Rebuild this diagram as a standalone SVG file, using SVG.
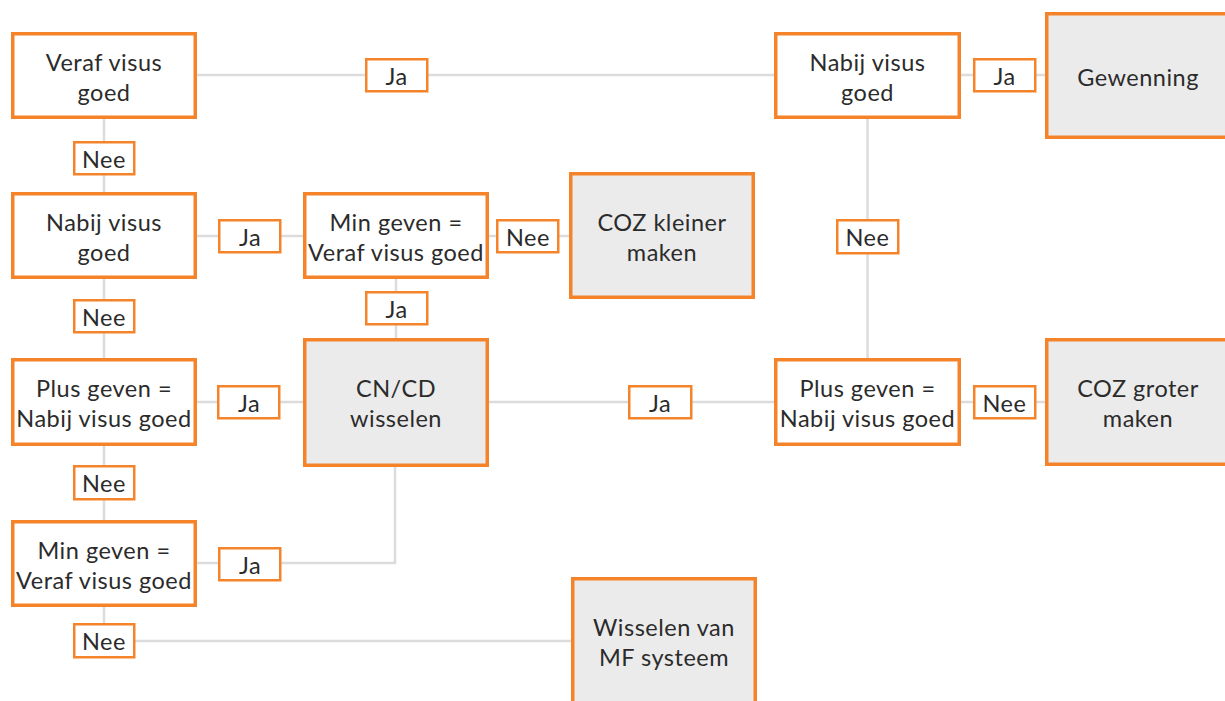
<svg xmlns="http://www.w3.org/2000/svg" width="1225" height="701" viewBox="0 0 1225 701">
<style>
.n{fill:#fff;stroke:#f5832a;stroke-width:3.5}
.t{fill:#ebebeb;stroke:#f5832a;stroke-width:3.5}
.l{fill:#fff;stroke:#f5832a;stroke-width:2.5}
.c{fill:none;stroke:#dcdcdc;stroke-width:2.5}
text{font-family:Lato,"Liberation Sans",sans-serif;fill:#2b2b2b;text-anchor:middle;font-size:23.5px;letter-spacing:0.5px}
</style>
<rect width="1225" height="701" fill="#fff"/>
<g id="connectors">
<path class="c" d="M197 75H774"/>
<path class="c" d="M104 119V192"/>
<path class="c" d="M197 236H303"/>
<path class="c" d="M489 236H569"/>
<path class="c" d="M396 279V338"/>
<path class="c" d="M104 279V358"/>
<path class="c" d="M197 402H303"/>
<path class="c" d="M489 402H774"/>
<path class="c" d="M867.5 119V358"/>
<path class="c" d="M961 75H1045"/>
<path class="c" d="M961 402H1045"/>
<path class="c" d="M104 446V520"/>
<path class="c" d="M197 563H395V467"/>
<path class="c" d="M104 607V641H571"/>
</g>
<g id="n1"><rect class="n" x="12.75" y="33.75" width="182.5" height="83.5"/><text x="104" y="71">Veraf visus</text><text x="104" y="101">goed</text></g>
<g id="n2"><rect class="n" x="12.75" y="193.75" width="182.5" height="83.5"/><text x="104" y="231">Nabij visus</text><text x="104" y="261">goed</text></g>
<g id="n3"><rect class="n" x="304.75" y="193.75" width="182.5" height="83.5"/><text x="396" y="231">Min geven =</text><text x="396" y="261">Veraf visus goed</text></g>
<g id="n4"><rect class="t" x="570.75" y="173.75" width="182.5" height="123.5"/><text x="662" y="231">COZ kleiner</text><text x="662" y="261">maken</text></g>
<g id="n5"><rect class="n" x="775.75" y="33.75" width="183.5" height="83.5"/><text x="867.5" y="71">Nabij visus</text><text x="867.5" y="101">goed</text></g>
<g id="n6"><rect class="t" x="1046.75" y="13.75" width="182.5" height="123.5"/><text x="1138" y="86">Gewenning</text></g>
<g id="n7"><rect class="n" x="12.75" y="359.75" width="182.5" height="84.5"/><text x="104" y="397">Plus geven =</text><text x="104" y="427">Nabij visus goed</text></g>
<g id="n8"><rect class="t" x="304.75" y="339.75" width="182.5" height="125.5"/><text x="396" y="397">CN/CD</text><text x="396" y="427">wisselen</text></g>
<g id="n9"><rect class="n" x="775.75" y="359.75" width="183.5" height="84.5"/><text x="867.5" y="397">Plus geven =</text><text x="867.5" y="427">Nabij visus goed</text></g>
<g id="n10"><rect class="t" x="1046.75" y="339.75" width="182.5" height="124.5"/><text x="1138" y="397">COZ groter</text><text x="1138" y="427">maken</text></g>
<g id="n11"><rect class="n" x="12.75" y="521.75" width="182.5" height="83.5"/><text x="104" y="559">Min geven =</text><text x="104" y="589">Veraf visus goed</text></g>
<g id="n12"><rect class="t" x="572.75" y="578.75" width="182.5" height="124"/><text x="664" y="636">Wisselen van</text><text x="664" y="666">MF systeem</text></g>
<g id="labels">
<g id="lb1"><rect class="l" x="366.25" y="59.25" width="61" height="32"/><text x="396.5" y="85">Ja</text></g>
<g id="lb2"><rect class="l" x="74.25" y="142.25" width="60" height="32"/><text x="104" y="167.5">Nee</text></g>
<g id="lb3"><rect class="l" x="219.25" y="220.25" width="61" height="32"/><text x="250" y="245.5">Ja</text></g>
<g id="lb4"><rect class="l" x="497.25" y="220.25" width="61" height="32"/><text x="528" y="245.5">Nee</text></g>
<g id="lb5"><rect class="l" x="366.25" y="292.25" width="61" height="32"/><text x="396.5" y="318">Ja</text></g>
<g id="lb6"><rect class="l" x="74.25" y="300.25" width="60" height="32"/><text x="104" y="325.5">Nee</text></g>
<g id="lb7"><rect class="l" x="837.25" y="220.25" width="61" height="33"/><text x="867.5" y="246">Nee</text></g>
<g id="lb8"><rect class="l" x="974.25" y="59.25" width="61" height="32"/><text x="1004.5" y="85">Ja</text></g>
<g id="lb9"><rect class="l" x="218.25" y="386.25" width="61" height="32"/><text x="249" y="411.5">Ja</text></g>
<g id="lb10"><rect class="l" x="629.25" y="386.25" width="62" height="32"/><text x="660" y="411.5">Ja</text></g>
<g id="lb11"><rect class="l" x="974.25" y="386.25" width="61" height="32"/><text x="1004.5" y="411.5">Nee</text></g>
<g id="lb12"><rect class="l" x="74.25" y="466.25" width="60" height="33"/><text x="104" y="492">Nee</text></g>
<g id="lb13"><rect class="l" x="219.25" y="548.25" width="61" height="32"/><text x="250" y="573.5">Ja</text></g>
<g id="lb14"><rect class="l" x="74.25" y="624.25" width="60" height="33"/><text x="104" y="650">Nee</text></g>
</g>
</svg>
